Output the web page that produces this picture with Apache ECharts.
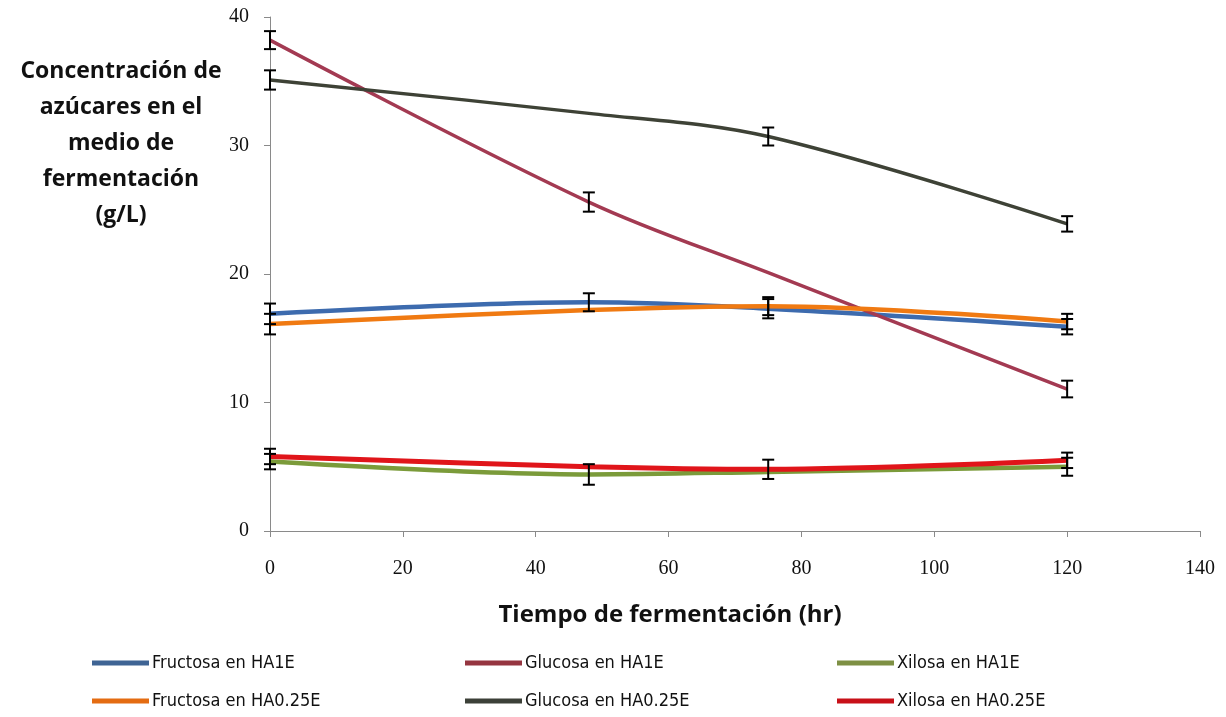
<!DOCTYPE html>
<html>
<head>
<meta charset="utf-8">
<script src="https://cdn.jsdelivr.net/npm/echarts@6/dist/echarts.min.js"></script>
<style>html,body{margin:0;padding:0;background:#fff;}#c{width:1226px;height:717px;}</style>
</head>
<body>
<div id="c"></div>
<script>
// ---- data ----
const times = [0, 48, 75, 120];
const seriesNames = ['Fructosa en HA1E', 'Glucosa en HA1E', 'Xilosa en HA1E',
                     'Fructosa en HA0.25E', 'Glucosa en HA0.25E', 'Xilosa en HA0.25E'];
const fructosaHA1E   = [16.9, 17.8, 17.3, 15.9];
const glucosaHA1E    = [38.2, 25.6, 20.1, 11.05];
const xilosaHA1E     = [5.4, 4.4, 4.6, 5.0];
const fructosaHA025E = [16.1, 17.2, 17.5, 16.3];
const glucosaHA025E  = [35.1, 32.5, 30.7, 23.9];
const xilosaHA025E   = [5.8, 5.0, 4.8, 5.5];
// error bar half-widths (null = none shown)
const errFructosaHA1E   = [0.8, 0.7, 0.75, 0.6];
const errGlucosaHA1E    = [0.7, 0.75, null, 0.65];
const errXilosaHA1E     = [0.6, 0.8, null, 0.7];
const errFructosaHA025E = [0.8, null, 0.7, 0.6];
const errGlucosaHA025E  = [0.75, null, 0.7, 0.6];
const errXilosaHA025E   = [0.6, null, 0.75, 0.6];
const xTicks = [0, 20, 40, 60, 80, 100, 120, 140];
const yTicks = [0, 10, 20, 30, 40];

const values = [fructosaHA1E, glucosaHA1E, xilosaHA1E, fructosaHA025E, glucosaHA025E, xilosaHA025E];
const errs = [errFructosaHA1E, errGlucosaHA1E, errXilosaHA1E, errFructosaHA025E, errGlucosaHA025E, errXilosaHA025E];
const colors = ['#3D6BAE', '#A33A52', '#7B9B3A', '#F07A12', '#3E4236', '#E0151A'];
const legendColors = ['#3F6494', '#953540', '#7E9044', '#E46C12', '#3C4038', '#C81018'];
const widths = [4.5, 3.5, 4.5, 4.5, 3.5, 5];

const chart = echarts.init(document.getElementById('c'), null, {renderer: 'canvas'});

const lineSeries = seriesNames.map((n, i) => ({
  name: n, type: 'line', smooth: 0.35, symbol: 'none',
  data: times.map((t, k) => [t, values[i][k]]),
  lineStyle: {color: colors[i], width: widths[i]},
  itemStyle: {color: legendColors[i]},
  z: 2 + (i === 5 ? 1 : 0)
}));

const errData = [];
errs.forEach((arr, i) => arr.forEach((e, k) => {
  if (e != null) errData.push([times[k], values[i][k], e]);
}));

const errSeries = {
  type: 'custom', name: 'err', z: 10, silent: true,
  data: errData,
  encode: {x: 0, y: 1},
  renderItem: function (params, api) {
    const x = api.value(0), y = api.value(1), e = api.value(2);
    const top = api.coord([x, y + e]);
    const bot = api.coord([x, y - e]);
    const hw = 6;
    const st = {stroke: '#000', lineWidth: 2};
    return {type: 'group', children: [
      {type: 'line', shape: {x1: top[0], y1: top[1], x2: bot[0], y2: bot[1]}, style: st},
      {type: 'line', shape: {x1: top[0] - hw, y1: top[1], x2: top[0] + hw, y2: top[1]}, style: st},
      {type: 'line', shape: {x1: bot[0] - hw, y1: bot[1], x2: bot[0] + hw, y2: bot[1]}, style: st}
    ]};
  }
};

const legendPos = [[92, 654], [465, 654], [837, 654], [92, 692], [465, 692], [837, 692]];
const legends = seriesNames.map((n, i) => ({
  data: [n], left: legendPos[i][0], top: legendPos[i][1], padding: 0,
  icon: 'rect', itemWidth: 57, itemHeight: 5, itemGap: 0,
  selectedMode: false,
  textStyle: {fontFamily: "'DejaVu Sans Condensed', 'Roboto', sans-serif", fontSize: 18, color: '#111', padding: [0, 0, 0, -2]}
}));

chart.setOption({
  animation: false,
  backgroundColor: '#fff',
  title: {
    text: 'Concentración de\nazúcares en el\nmedio de\nfermentación\n(g/L)',
    left: 116, top: 49, textAlign: 'center',
    textStyle: {fontFamily: 'Open Sans', fontWeight: 'bold', fontSize: 23, lineHeight: 35.8, color: '#111'}
  },
  legend: legends,
  grid: {left: 270, right: 26, top: 17, bottom: 186, containLabel: false},
  xAxis: {
    type: 'value', min: xTicks[0], max: xTicks[xTicks.length - 1], interval: 20,
    name: 'Tiempo de fermentación (hr)', nameLocation: 'middle', nameGap: 72,
    nameTextStyle: {fontFamily: 'Open Sans', fontWeight: 'bold', fontSize: 24, color: '#111', padding: [0, 130, 0, 0]},
    axisLine: {lineStyle: {color: '#8a8a8a', width: 1}},
    axisTick: {show: true, length: 6, lineStyle: {color: '#8a8a8a'}},
    axisLabel: {fontFamily: 'Liberation Serif', fontSize: 20, color: '#111', margin: 28},
    splitLine: {show: false}
  },
  yAxis: {
    type: 'value', min: yTicks[0], max: yTicks[yTicks.length - 1], interval: 10,
    axisLine: {show: true, lineStyle: {color: '#8a8a8a', width: 1}},
    axisTick: {show: true, length: 6, lineStyle: {color: '#8a8a8a'}},
    axisLabel: {fontFamily: 'Liberation Serif', fontSize: 20, color: '#111', margin: 21},
    splitLine: {show: false}
  },
  series: lineSeries.concat([errSeries])
});
</script>
</body>
</html>
